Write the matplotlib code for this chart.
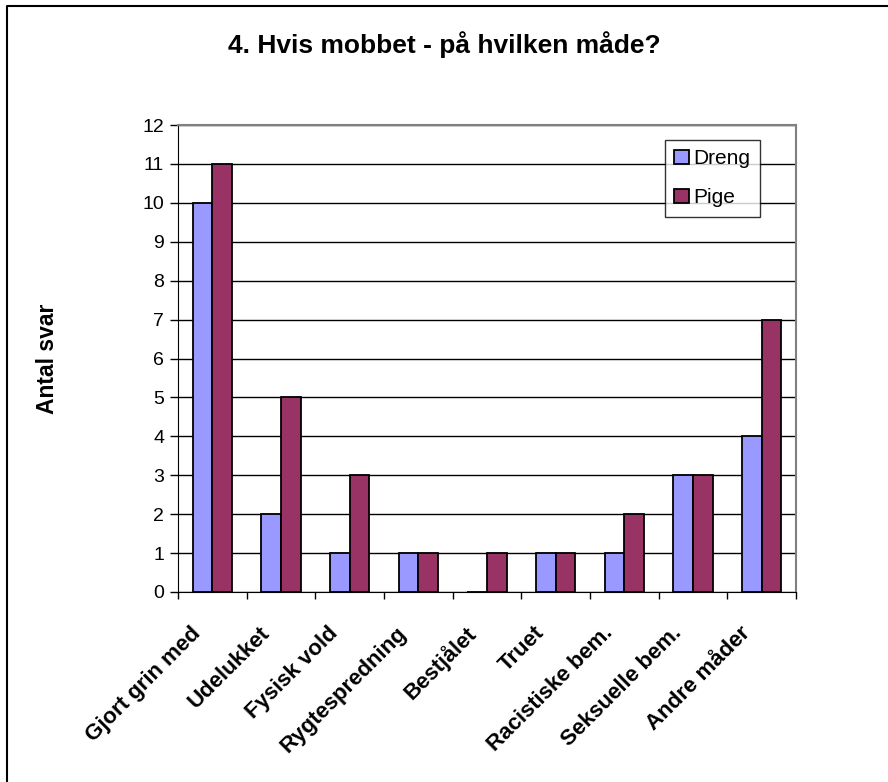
#!/usr/bin/env python3

# bar chart: how were the pupils bullied, boys vs girls

import numpy as np
import matplotlib
matplotlib.use('Agg')
import matplotlib.pyplot as plt
import matplotlib.transforms as mtransforms
from matplotlib.lines import Line2D
from matplotlib.ticker import MultipleLocator

matplotlib.rcParams['font.family'] = ['Liberation Sans', 'DejaVu Sans']

categories = ['Gjort grin med', 'Udelukket', 'Fysisk vold', 'Rygtespredning',
              'Bestjålet', 'Truet', 'Racistiske bem.', 'Seksuelle bem.',
              'Andre måder']
dreng = [10, 2, 1, 1, 0, 1, 1, 3, 4]
pige = [11, 5, 3, 1, 1, 1, 2, 3, 7]

W, H = 888, 782
fig = plt.figure(figsize=(W / 100, H / 100), dpi=100)

# plot area in pixels: x 178..796, y 125..592
ax = fig.add_axes([178 / W, 1 - 592 / H, (796 - 178) / W, (592 - 125) / H])

x = np.arange(len(categories))
width = 1 / 3.5
ax.bar(x - width / 2, dreng, width, color='#9999FF', edgecolor='black',
       linewidth=1.3, label='Dreng', zorder=3)
ax.bar(x + width / 2, pige, width, color='#993366', edgecolor='black',
       linewidth=1.3, label='Pige', zorder=3)

ax.set_xlim(-0.5, len(categories) - 0.5)
ax.set_ylim(0, 12)
ax.yaxis.set_major_locator(MultipleLocator(1))
ax.grid(axis='y', color='black', linewidth=1, zorder=0)

ax.set_xticks(x)
ax.set_xticklabels(categories, rotation=45, ha='right', rotation_mode='anchor',
                   fontsize=16, fontweight='bold')
ax.tick_params(axis='x', length=0, pad=22)
# shift the rotated labels a bit to the left, like the original
offset = mtransforms.ScaledTranslation(-0.22, 0, fig.dpi_scale_trans)
for lbl in ax.get_xticklabels():
    lbl.set_transform(lbl.get_transform() + offset)
ax.set_xticks(np.arange(-0.5, len(categories)), minor=True)
ax.tick_params(axis='x', which='minor', length=5, width=1, direction='out')
ax.tick_params(axis='y', length=6, width=1, labelsize=14, pad=4)

for side in ['top', 'right']:
    ax.spines[side].set_color('#808080')
    ax.spines[side].set_linewidth(1.5)
ax.spines['left'].set_color('black')
ax.spines['bottom'].set_color('black')

ax.set_ylabel('Antal svar', fontsize=16.5, fontweight='bold')
ax.yaxis.set_label_coords((59 - 178) / (796 - 178), 0.5)

fig.text(0.5, 1 - 45 / H, '4. Hvis mobbet - på hvilken måde?',
         ha='center', va='center', fontsize=19, fontweight='bold')

leg = ax.legend(loc='upper left', bbox_to_anchor=((665 - 178) / (796 - 178),
                1 - (140 - 125) / (592 - 125)), frameon=True, fancybox=False,
                edgecolor='black', fontsize=15, handlelength=0.7,
                handleheight=0.7, handletextpad=0.2, labelspacing=0.95,
                borderpad=0.45, borderaxespad=0)
leg.get_frame().set_linewidth(1)

# outer chart border (only top and left edges visible)
fig.lines.append(Line2D([7 / W, 7 / W, 1], [0, 1 - 6 / H, 1 - 6 / H],
                        transform=fig.transFigure, color='black', linewidth=1.5))

fig.savefig('out.png', dpi=100)
